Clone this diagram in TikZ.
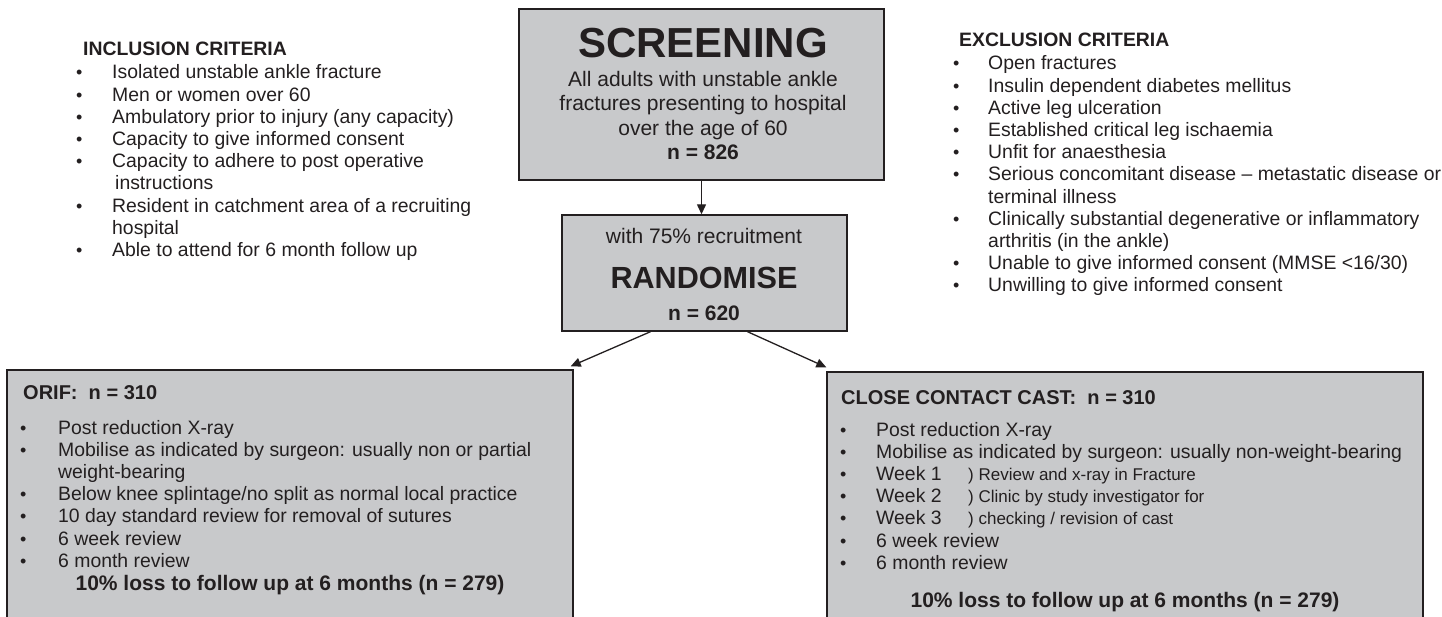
\documentclass[tikz,border=0pt]{standalone}
\usepackage{fontspec}
\setmainfont{Liberation Sans}
\usetikzlibrary{arrows.meta}
\definecolor{boxgrey}{RGB}{200,201,203}
\definecolor{ink}{RGB}{35,31,32}
\newcommand{\blt}{{\fontsize{18}{18}\selectfont\textbullet}}

\begin{document}
\begin{tikzpicture}[x=1pt, y=-1pt,
    panel/.style={draw=ink, line width=1.4pt, fill=boxgrey, inner sep=0pt},
    txt/.style={inner sep=0pt, text=ink, anchor=base west},
    listfont/.style={font=\fontsize{19.4}{22.2}\selectfont},
    headfont/.style={font=\fontsize{19.4}{22.2}\selectfont\bfseries},
    arr/.style={-{Triangle[length=10pt,width=9pt]}, line width=1.3pt, draw=ink}]

    \useasboundingbox (0,0) rectangle (1442,617);
    \clip (0,0) rectangle (1442,617);

    %%%%% BOXES %%%%%
    \node[panel, minimum width=365pt, minimum height=171pt] (screen) at (701.5,94.5) {};
    \node[panel, minimum width=285pt, minimum height=116pt] (rand) at (704.5,273) {};
    \node[panel, minimum width=566pt, minimum height=290pt] (orif) at (290,515) {};
    \node[panel, minimum width=596pt, minimum height=288pt] (cast) at (1125,516) {};

    \draw[arr] (screen.south) -- (screen.south |- rand.north);
    \draw[arr] ([xshift=-54pt]rand.south) -- ([shift={(-3pt,3pt)}]orif.north east);
    \draw[arr] ([xshift=43pt]rand.south) -- ([shift={(0pt,4pt)}]cast.north west);

    %%%%% SCREENING / RANDOMISE %%%%%
    \node[txt, anchor=base, font=\fontsize{42}{42}\selectfont\bfseries] (screentitle) at (703,58) {SCREENING};
    \node[txt, anchor=base, font=\fontsize{21}{24.3}\selectfont] (screentext) at (703,86.5)
        {\begin{tabular}[t]{@{}c@{}}
            All adults with unstable ankle\\
            fractures presenting to hospital\\
            over the age of 60\\
            \textbf{n = 826}
        \end{tabular}};

    \node[txt, anchor=base, font=\fontsize{21}{21}\selectfont] (randnote) at (704,243.5) {with 75\% recruitment};
    \node[txt, anchor=base, font=\fontsize{30.6}{30.6}\selectfont\bfseries] (randtitle) at (704,289) {RANDOMISE};
    \node[txt, anchor=base, font=\fontsize{21}{21}\selectfont\bfseries] (randn) at (704,320.5) {n = 620};

    %%%%% CRITERIA %%%%%
    \node[txt, headfont] (inchead) at (83,56) {INCLUSION CRITERIA};
    \node[txt, listfont] (inclist) at (76,79)
        {\begin{tabular}[t]{@{}p{36pt}@{}l@{}}
            \blt & Isolated unstable ankle fracture\\
            \blt & Men or women over 60\\
            \blt & Ambulatory prior to injury (any capacity)\\
            \blt & Capacity to give informed consent\\
            \blt & Capacity to adhere to post operative\\
                 & \hspace{3pt}instructions\\
            \blt & Resident in catchment area of a recruiting\\
                 & hospital\\
            \blt & Able to attend for 6 month follow up
        \end{tabular}};

    \node[txt, headfont] (exchead) at (959,47) {EXCLUSION CRITERIA};
    \node[txt, listfont] (exclist) at (953,70)
        {\begin{tabular}[t]{@{}p{35pt}@{}l@{}}
            \blt & Open fractures\\
            \blt & Insulin dependent diabetes mellitus\\
            \blt & Active leg ulceration\\
            \blt & Established critical leg ischaemia\\
            \blt & Unfit for anaesthesia\\
            \blt & Serious concomitant disease -- metastatic disease or\\
                 & terminal illness\\
            \blt & Clinically substantial degenerative or inflammatory\\
                 & arthritis (in the ankle)\\
            \blt & Unable to give informed consent (MMSE <16/30)\\
            \blt & Unwilling to give informed consent
        \end{tabular}};

    %%%%% ORIF %%%%%
    \node[txt, font=\fontsize{20}{20}\selectfont\bfseries] (orifhead) at (23,399) {ORIF:\ \ n = 310};
    \node[txt, listfont] (oriflist) at (20,434)
        {\begin{tabular}[t]{@{}p{38pt}@{}l@{}}
            \blt & Post reduction X-ray\\
            \blt & Mobilise as indicated by surgeon: usually non or partial\\
                 & weight-bearing\\
            \blt & Below knee splintage/no split as normal local practice\\
            \blt & 10 day standard review for removal of sutures\\
            \blt & 6 week review\\
            \blt & 6 month review
        \end{tabular}};
    \node[txt, anchor=base, font=\fontsize{21}{21}\selectfont\bfseries] (orifloss) at (290,590) {10\% loss to follow up at 6 months (n = 279)};

    %%%%% CLOSE CONTACT CAST %%%%%
    \node[txt, font=\fontsize{20}{20}\selectfont\bfseries] (casthead) at (841,404) {CLOSE CONTACT CAST:\ \ n = 310};
    \node[txt, listfont] (castlist) at (840,436)
        {\begin{tabular}[t]{@{}p{36pt}@{}l@{}}
            \blt & Post reduction X-ray\\
            \blt & Mobilise as indicated by surgeon: usually non-weight-bearing\\
            \blt & \makebox[92pt][l]{Week 1}{\fontsize{17}{17}\selectfont) Review and x-ray in Fracture}\\
            \blt & \makebox[92pt][l]{Week 2}{\fontsize{17}{17}\selectfont) Clinic by study investigator for}\\
            \blt & \makebox[92pt][l]{Week 3}{\fontsize{17}{17}\selectfont) checking / revision of cast}\\
            \blt & 6 week review\\
            \blt & 6 month review
        \end{tabular}};
    \node[txt, anchor=base, font=\fontsize{21}{21}\selectfont\bfseries] (castloss) at (1125,607.5) {10\% loss to follow up at 6 months (n = 279)};

\end{tikzpicture}
\end{document}
